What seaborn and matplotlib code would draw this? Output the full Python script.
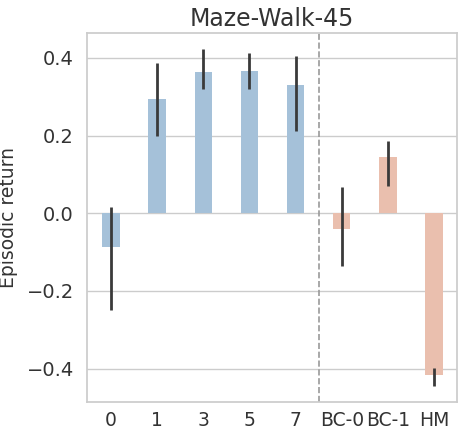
import matplotlib
matplotlib.use("Agg")
import matplotlib.pyplot as plt
import seaborn as sns
import pandas as pd
import numpy as np

categories = ["0", "1", "3", "5", "7", "BC-0", "BC-1", "HM"]
groups = ["ours", "ours", "ours", "ours", "ours", "base", "base", "base"]
values = [-0.087, 0.293, 0.364, 0.367, 0.331, -0.040, 0.145, -0.416]
err_low = [-0.249, 0.200, 0.319, 0.319, 0.212, -0.136, 0.069, -0.446]
err_high = [0.017, 0.388, 0.422, 0.413, 0.406, 0.067, 0.187, -0.399]

sns.set_theme(style="whitegrid")
plt.rcParams['font.family'] = ['DejaVu Sans']

df = pd.DataFrame({"cat": categories, "val": values, "grp": groups})

fig = plt.figure(figsize=(4.58, 4.29), dpi=100)
ax = fig.add_axes([0.19, 0.064, 0.808, 0.859])

palette = {"ours": "#a5c1d9", "base": "#eabfae"}
sns.barplot(data=df, x="cat", y="val", hue="grp", palette=palette,
            dodge=False, width=0.38, legend=False, ax=ax, errorbar=None,
            saturation=1, linewidth=0)

x = np.arange(len(categories))
vals = np.array(values)
yerr = np.vstack([vals - np.array(err_low), np.array(err_high) - vals])
ax.errorbar(x, vals, yerr=yerr, fmt="none", ecolor="#3a3a3a", elinewidth=2, capsize=0)

ax.axvline(4.5, color="#999999", linestyle="--", linewidth=1.2)
ax.set_xlim(-0.52, 7.5)
ax.set_ylim(-0.485, 0.464)
ax.set_yticks([-0.4, -0.2, 0.0, 0.2, 0.4])
ax.set_xlabel("")
ax.set_ylabel("Episodic return", fontsize=13.5, color="#333333", labelpad=6)
ax.set_title("Maze-Walk-45", fontsize=17, color="#333333", pad=5)
ax.tick_params(axis="y", labelsize=14, colors="#333333")
ax.tick_params(axis="x", labelsize=13.5, colors="#333333", pad=0.5)
ax.grid(axis="x", visible=False)
for s in ax.spines.values():
    s.set_color("#cccccc")

fig.savefig("out.png", dpi=100)
